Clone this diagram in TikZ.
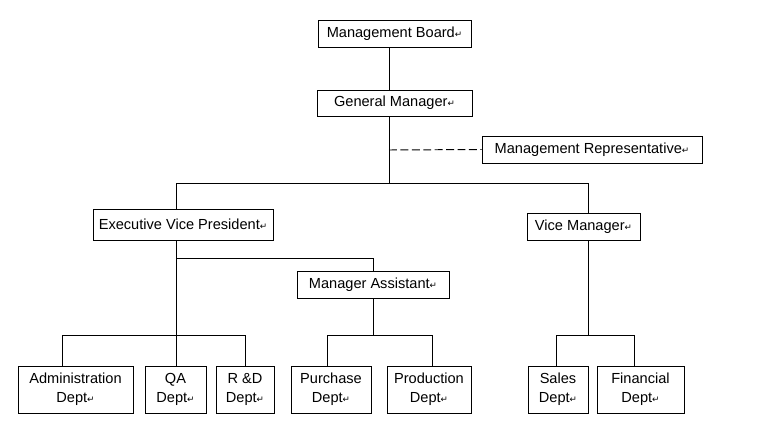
\documentclass[tikz,border=0pt]{standalone}
\usepackage{fontspec}
\setmainfont{Liberation Sans}
\newfontfamily\symfont{DejaVu Sans}
\newcommand\ret{{\symfont\fontsize{5}{5}\selectfont ↵}}

\begin{document}
\begin{tikzpicture}[x=0.2mm, y=-0.2mm, line width=0.55pt,
  font=\fontsize{8.3}{10.6}\selectfont,
  box/.style={draw, inner sep=0pt, minimum height=5.4mm, align=center},
  dept/.style={box, minimum height=9.4mm}]
  \useasboundingbox (0,0) rectangle (761,438);
  % upper levels
  \node[box, minimum width=30.6mm] (mb) at (394.5,33.5) {Management Board\ret};
  \node[box, minimum width=31mm, minimum height=5.2mm] (gm) at (394.5,103) {General Manager\ret};
  \node[box, minimum width=44mm] (rep) at (592,149.5) {Management Representative\ret};
  \node[box, minimum width=36mm, minimum height=6.2mm] (evp) at (183,224.5) {Executive Vice President\ret};
  \node[box, minimum width=22.6mm] (vm) at (583.5,226.5) {Vice Manager\ret};
  \node[box, minimum width=30.4mm] (ma) at (373,284.5) {Manager Assistant\ret};
  % departments
  \node[dept, minimum width=23mm] (admin) at (75.5,389.5) {Administration\\Dept\ret};
  \node[dept, minimum width=12.2mm] (qa) at (175.5,389.5) {QA\\Dept\ret};
  \node[dept, minimum width=11.6mm] (rd) at (245,389.5) {R \&D\\Dept\ret};
  \node[dept, minimum width=16mm] (pur) at (331,389.5) {Purchase\\Dept\ret};
  \node[dept, minimum width=16.8mm] (prod) at (429,389.5) {Production\\Dept\ret};
  \node[dept, minimum width=12mm] (sales) at (558,389.5) {Sales\\Dept\ret};
  \node[dept, minimum width=17.4mm] (fin) at (640.5,389.5) {Financial\\Dept\ret};
  % junctions
  \coordinate (j1) at (389,183);
  \coordinate (jr) at (389,150);
  \coordinate (jl) at (176,183);
  \coordinate (jv) at (588,183);
  \coordinate (jm) at (176,258);
  \coordinate (jb) at (176,335);
  \coordinate (d1) at (62,335);
  \coordinate (d3) at (245,335);
  \coordinate (d4) at (327,335);
  \coordinate (d5) at (432,335);
  \coordinate (d6) at (556,335);
  \coordinate (d7) at (634,335);
  % connectors
  \draw (mb.south -| j1) -- (gm.north -| j1);
  \draw (gm.south -| j1) -- (j1);
  \draw[dash pattern=on 4.5pt off 2pt] (jr) -- (rep.west);
  \draw (evp.north -| jl) -- (jl) -- (jv) -- (vm.north -| jv);
  \draw (evp.south -| jl) -- (jb);
  \draw (jm) -| (ma.north);
  \draw (admin.north -| d1) -- (d1) -- (d3) -- (rd.north -| d3);
  \draw (jb) -- (qa.north -| jb);
  \draw (ma.south) -- (ma.south |- jb);
  \draw (pur.north -| d4) -- (d4) -- (d5) -- (prod.north -| d5);
  \draw (vm.south -| jv) -- (jv |- jb);
  \draw (sales.north -| d6) -- (d6) -- (d7) -- (fin.north -| d7);
\end{tikzpicture}
\end{document}
